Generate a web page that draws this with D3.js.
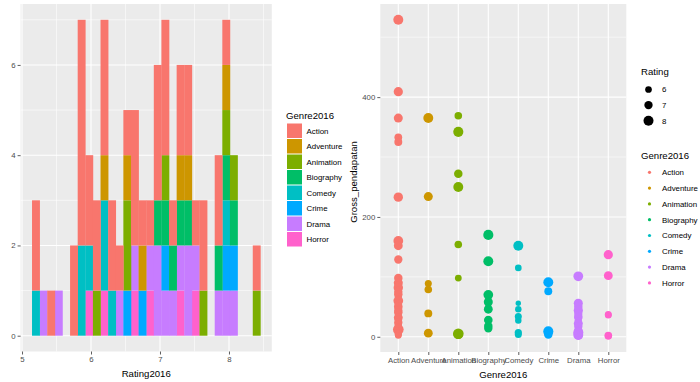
<!DOCTYPE html>
<html><head><meta charset="utf-8">
<script src="https://cdn.jsdelivr.net/npm/d3@7"></script>
<style>
body{margin:0;background:#fff;}
svg{display:block;font-family:"Liberation Sans",Arial,Helvetica,sans-serif;}
</style>
</head><body>
<svg id="chart" width="700" height="382"></svg>
<script>
// ---------------- DATA ----------------
const genres = ["Action","Adventure","Animation","Biography","Comedy","Crime","Drama","Horror"];
const genreColors = ["#F8766D","#CD9600","#7CAE00","#00BE67","#00BFC4","#00A9FF","#C77CFF","#FF61CC"];

// histogram of Rating2016 (ggplot bins = 30, centres from min to max rating)
const ratingMin = 5.2, ratingMax = 8.4, nBins = 30;
const histAction    = [2,0,1,0,0,2,5,2,2,3,2,1,1,3,1,1,3,3,1,2,2,1,2,0,2,1,0,0,0,1];
const histAdventure = [0,0,0,0,0,0,0,0,0,1,0,0,1,0,1,0,0,0,0,1,1,0,0,0,0,1,0,0,0,0];
const histAnimation = [0,0,0,0,0,0,0,0,1,0,0,0,2,0,0,0,0,1,0,0,0,0,1,0,0,1,1,0,0,1];
const histBiography = [0,0,0,0,0,0,0,0,0,0,0,0,0,0,0,0,1,1,1,1,1,0,0,0,1,1,1,0,0,0];
const histComedy    = [1,0,0,0,0,0,2,1,0,2,1,0,0,0,0,0,0,0,0,0,0,0,0,0,0,1,0,0,0,0];
const histCrime     = [0,0,0,0,0,0,0,0,0,0,0,0,1,0,1,0,0,1,0,0,0,0,0,0,0,1,1,0,0,0];
const histDrama     = [0,1,0,1,0,0,0,0,0,0,0,1,0,1,0,1,2,1,1,1,2,1,0,0,1,1,1,0,0,0];
const histHorror    = [0,0,0,0,0,0,0,1,0,1,0,0,0,1,0,1,0,0,0,1,0,1,0,0,0,0,0,0,0,0];

const histXTicks = [5,6,7,8];
const histYTicks = [0,2,4,6];

// scatter: [Gross_pendapatan, Rating]
const ptsAction = [[529,7.96],[409,7.52],[365,7.41],[333,6.63],[325,6.74],[233,7.63],[160,7.85],[152,7.30],[129,6.97],
  [98,7.08],[95,5.86],[90,7.41],[86,6.19],[82,7.63],[78,5.97],[75,6.97],[71,7.08],[67,6.30],[64,5.75],[60,7.85],
  [57,6.08],[54,6.63],[50,7.19],[47,5.86],[44,6.85],[41,7.08],[38,6.19],[35,5.2],[32,7.30],[29,6.52],[26,5.86],
  [24,6.97],[21,6.41],[18,5.42],[16,6.63],[14,5.97],[12,8.40],[10,6.08],[8,5.86],[6,6.19],[5,5.75],[4,6.30],[3,5.2],[2,5.86]];
const ptsAdventure = [[365,7.96],[234,7.41],[89,6.19],[79,6.52],[39,6.74],[6,7.30]];
const ptsAnimation = [[369,6.52],[342,8.07],[272,7.08],[250,7.96],[154,6.52],[98,6.08],[5,8.40],[4,7.63]];
const ptsBiography = [[170,8.07],[126,7.96],[70,7.85],[58,7.41],[46,7.30],[28,7.19],[18,7.08],[14,6.97]];
const ptsComedy    = [[152,7.96],[115,5.97],[56,5.2],[46,5.86],[34,6.19],[27,5.86],[7,6.30],[4,6.19]];
const ptsCrime     = [[91,7.96],[76,6.74],[9,8.07],[6,6.52],[4,7.08]];
const ptsDrama     = [[101,7.85],[56,7.41],[50,7.08],[44,7.52],[38,6.97],[33,7.19],[27,6.41],[22,7.41],[17,6.97],
  [13,5.53],[10,7.30],[7,8.07],[5,6.63],[3,7.96],[2,6.85],[1,5.31]];
const ptsHorror    = [[137,7.52],[102,7.30],[37,6.19],[36,5.97],[2,6.63],[1,5.97]];

const grossTicks = [0,200,400];
const grossMinor = [100,300,500];
const sizeBreaks = [6,7,8];

// ---------------- BUILD ----------------
const histByGenre = {Action:histAction,Adventure:histAdventure,Animation:histAnimation,Biography:histBiography,
  Comedy:histComedy,Crime:histCrime,Drama:histDrama,Horror:histHorror};
const ptsByGenre = {Action:ptsAction,Adventure:ptsAdventure,Animation:ptsAnimation,Biography:ptsBiography,
  Comedy:ptsComedy,Crime:ptsCrime,Drama:ptsDrama,Horror:ptsHorror};
const color = d3.scaleOrdinal().domain(genres).range(genreColors);

const svg = d3.select("#chart");
const TICK = "#4D4D4D", PANEL = "#EBEBEB";
const fsTick = 7.8, fsTitle = 9.6, fsLegend = 7.9;

// ===== LEFT: histogram =====
const binW = (ratingMax - ratingMin) / (nBins - 1);
const rows = d3.range(nBins).map(k => {
  const r = {lo: ratingMin - binW/2 + k*binW, hi: ratingMin + binW/2 + k*binW};
  genres.forEach(g => r[g] = histByGenre[g][k]);
  return r;
});
const L = {x0: 20.6, x1: 271.8, y0: 4, y1: 351.5};
const xLo = rows[0].lo, xHi = rows[nBins-1].hi, xPad = (xHi - xLo)*0.05;
const xL = d3.scaleLinear().domain([xLo - xPad, xHi + xPad]).range([L.x0, L.x1]);
const maxCount = d3.max(rows, r => d3.sum(genres, g => r[g]));
const yL = d3.scaleLinear().domain([-maxCount*0.05, maxCount*1.05]).range([L.y1, L.y0]);

const gL = svg.append("g");
gL.append("rect").attr("x",L.x0).attr("y",L.y0).attr("width",L.x1-L.x0).attr("height",L.y1-L.y0).attr("fill",PANEL);
[5.5,6.5,7.5,8.5].forEach(v => gL.append("line").attr("x1",xL(v)).attr("x2",xL(v)).attr("y1",L.y0).attr("y2",L.y1).attr("stroke","#fff").attr("stroke-width",0.55));
[1,3,5,7].forEach(v => gL.append("line").attr("y1",yL(v)).attr("y2",yL(v)).attr("x1",L.x0).attr("x2",L.x1).attr("stroke","#fff").attr("stroke-width",0.55));
histXTicks.forEach(v => gL.append("line").attr("x1",xL(v)).attr("x2",xL(v)).attr("y1",L.y0).attr("y2",L.y1).attr("stroke","#fff").attr("stroke-width",1.1));
histYTicks.forEach(v => gL.append("line").attr("y1",yL(v)).attr("y2",yL(v)).attr("x1",L.x0).attr("x2",L.x1).attr("stroke","#fff").attr("stroke-width",1.1));

const stackKeys = genres.slice().reverse(); // Horror at bottom, Action on top
const stacked = d3.stack().keys(stackKeys)(rows);
stacked.forEach(layer => {
  gL.append("g").attr("fill", color(layer.key)).selectAll("rect")
    .data(layer.filter(d => d[1] > d[0]))
    .join("rect")
    .attr("x", d => xL(d.data.lo))
    .attr("width", d => xL(d.data.hi) - xL(d.data.lo) + 0.3)
    .attr("y", d => yL(d[1]))
    .attr("height", d => yL(d[0]) - yL(d[1]));
});

function styleAxis(g){
  g.select(".domain").remove();
  g.selectAll(".tick line").attr("stroke","#333").attr("stroke-width",0.8);
  g.selectAll(".tick text").attr("fill",TICK).attr("font-size",fsTick).attr("font-family","Liberation Sans, Arial, sans-serif");
}
gL.append("g").attr("transform",`translate(0,${L.y1})`)
  .call(d3.axisBottom(xL).tickValues(histXTicks).tickSize(3).tickPadding(2).tickFormat(d3.format("d"))).call(styleAxis);
gL.append("g").attr("transform",`translate(${L.x0},0)`)
  .call(d3.axisLeft(yL).tickValues(histYTicks).tickSize(3).tickPadding(2).tickFormat(d3.format("d"))).call(styleAxis);
gL.append("text").attr("x",(L.x0+L.x1)/2).attr("y",377).attr("text-anchor","middle").attr("font-size",fsTitle).attr("fill","#000").text("Rating2016");

// left legend
const lg = svg.append("g");
lg.append("text").attr("x",286).attr("y",119).attr("font-size",fsTitle).text("Genre2016");
genres.forEach((g,i) => {
  const y = 123.5 + i*15.5;
  lg.append("rect").attr("x",287).attr("y",y).attr("width",15).attr("height",14.5).attr("fill",color(g));
  lg.append("text").attr("x",306.5).attr("y",y+10.3).attr("font-size",fsLegend).text(g);
});

// ===== RIGHT: scatter =====
const R = {x0: 380.3, x1: 626.3, y0: 4, y1: 352};
const xR = d3.scalePoint().domain(genres).range([R.x0, R.x1]).padding(0.6);
const allPts = genres.flatMap(g => ptsByGenre[g].map(p => ({genre:g, gross:p[0], rating:p[1]})));
const gMin = d3.min(allPts, d => d.gross), gMax = d3.max(allPts, d => d.gross), gPad = (gMax-gMin)*0.05;
const yR = d3.scaleLinear().domain([gMin - gPad, gMax + gPad]).range([R.y1, R.y0]);
const radius = d3.scaleLinear().domain([6, 8]).range([3.35, 5.0]);

const gR = svg.append("g");
gR.append("rect").attr("x",R.x0).attr("y",R.y0).attr("width",R.x1-R.x0).attr("height",R.y1-R.y0).attr("fill",PANEL);
grossMinor.forEach(v => gR.append("line").attr("y1",yR(v)).attr("y2",yR(v)).attr("x1",R.x0).attr("x2",R.x1).attr("stroke","#fff").attr("stroke-width",0.55));
grossTicks.forEach(v => gR.append("line").attr("y1",yR(v)).attr("y2",yR(v)).attr("x1",R.x0).attr("x2",R.x1).attr("stroke","#fff").attr("stroke-width",1.1));
genres.forEach(g => gR.append("line").attr("x1",xR(g)).attr("x2",xR(g)).attr("y1",R.y0).attr("y2",R.y1).attr("stroke","#fff").attr("stroke-width",1.1));

gR.append("g").selectAll("circle").data(allPts).join("circle")
  .attr("cx", d => xR(d.genre)).attr("cy", d => yR(d.gross))
  .attr("r", d => radius(d.rating)).attr("fill", d => color(d.genre));

gR.append("g").attr("transform",`translate(0,${R.y1})`)
  .call(d3.axisBottom(xR).tickSize(3).tickPadding(2)).call(styleAxis);
gR.append("g").attr("transform",`translate(${R.x0},0)`)
  .call(d3.axisLeft(yR).tickValues(grossTicks).tickSize(3).tickPadding(2)).call(styleAxis);
gR.append("text").attr("x",(R.x0+R.x1)/2).attr("y",377.5).attr("text-anchor","middle").attr("font-size",fsTitle).text("Genre2016");
gR.append("text").attr("transform",`translate(357,${(R.y0+R.y1)/2 + 4}) rotate(-90)`).attr("text-anchor","middle").attr("font-size",fsTitle).text("Gross_pendapatan");

// right legends
const rg = svg.append("g");
rg.append("text").attr("x",641).attr("y",75).attr("font-size",fsTitle).text("Rating");
sizeBreaks.forEach((s,i) => {
  const y = 89.5 + i*15.6;
  rg.append("circle").attr("cx",648.5).attr("cy",y).attr("r",radius(s)).attr("fill","#000");
  rg.append("text").attr("x",662).attr("y",y+2.8).attr("font-size",fsLegend).text(s);
});
rg.append("text").attr("x",641).attr("y",159).attr("font-size",fsTitle).text("Genre2016");
genres.forEach((g,i) => {
  const y = 172.3 + i*15.8;
  rg.append("circle").attr("cx",649.5).attr("cy",y).attr("r",1.6).attr("fill",color(g));
  rg.append("text").attr("x",662).attr("y",y+2.8).attr("font-size",fsLegend).text(g);
});
</script>
</body></html>
